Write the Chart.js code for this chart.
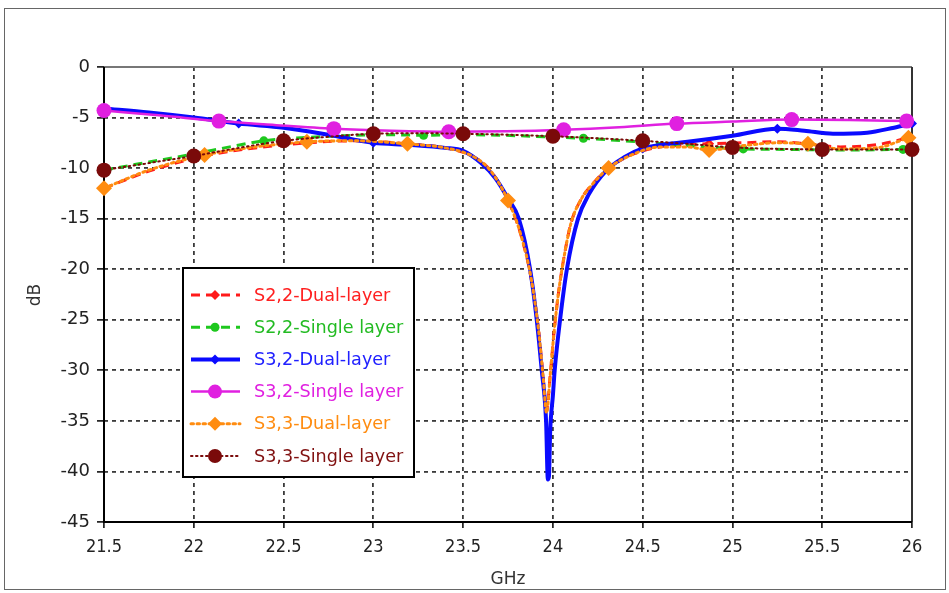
<!DOCTYPE html>
<html>
<head>
<meta charset="utf-8">
<script src="https://cdn.jsdelivr.net/npm/chart.js@4.4.1/dist/chart.umd.min.js"></script>
<style>
  html, body { margin: 0; padding: 0; background: #fff; }
  #c { display: block; }
</style>
</head>
<body>
<canvas id="c" width="949" height="593"></canvas>
<script>
// ---------- data ----------
const xTicks = [21.5, 22, 22.5, 23, 23.5, 24, 24.5, 25, 25.5, 26];
const yTicks = [-45, -40, -35, -30, -25, -20, -15, -10, -5, 0];

const seriesNames = ["S2,2-Dual-layer", "S2,2-Single layer", "S3,2-Dual-layer",
                     "S3,2-Single layer", "S3,3-Dual-layer", "S3,3-Single layer"];

// S2,2 Dual-layer and S3,3 Dual-layer share this frequency grid
const dualFreq = [21.5, 21.75, 22.06, 22.3, 22.63, 22.9, 23.19, 23.4, 23.55, 23.65, 23.75, 23.82,
  23.88, 23.92, 23.945, 23.965, 23.985, 24.005, 24.03, 24.06, 24.1, 24.16, 24.22, 24.31, 24.45,
  24.6, 24.75, 24.87, 25.05, 25.25, 25.42, 25.6, 25.8, 25.98];
const s22Dual = [-12.0, -10.3, -8.8, -8.1, -7.5, -7.3, -7.6, -8.0, -8.8, -10.2, -13.2, -16.5,
  -21, -26, -30.5, -34.0, -30.5, -26.5, -22.5, -19, -15.5, -13, -11.6, -10.0, -8.6,
  -7.9, -7.7, -7.6, -7.5, -7.4, -7.6, -7.9, -7.7, -7.0];
const s33Dual = [-12.0, -10.2, -8.7, -8.0, -7.4, -7.3, -7.6, -8.0, -8.8, -10.2, -13.2, -16.5,
  -21, -26, -30.5, -34.2, -30.5, -26.5, -22.5, -19, -15.5, -13, -11.6, -10.0, -8.6,
  -7.9, -7.9, -8.2, -7.8, -7.5, -7.6, -8.1, -8.0, -7.0];

const s22SingleFreq = [21.5, 21.75, 22.0, 22.2, 22.39, 22.6, 22.83, 23.05, 23.28, 23.5, 23.72,
  23.95, 24.17, 24.4, 24.62, 24.84, 25.06, 25.3, 25.5, 25.72, 25.95];
const s22Single = [-10.2, -9.4, -8.6, -7.9, -7.3, -7.0, -6.8, -6.7, -6.75, -6.7, -6.75,
  -6.9, -7.05, -7.3, -7.6, -7.9, -8.1, -8.15, -8.2, -8.2, -8.15];

const s32DualFreq = [21.5, 21.75, 22.0, 22.25, 22.5, 22.75, 23.0, 23.2, 23.4, 23.5, 23.6, 23.68,
  23.75, 23.81, 23.873, 23.91, 23.938, 23.962, 23.972, 23.978, 23.985, 24.0, 24.01, 24.04,
  24.078, 24.14, 24.2, 24.3, 24.4, 24.5, 24.6, 24.75, 25.0, 25.25, 25.4, 25.56, 25.75, 25.9, 26.0];
const s32Dual = [-4.1, -4.5, -5.0, -5.6, -6.0, -6.7, -7.5, -7.7, -8.0, -8.3, -9.5, -11.0,
  -13.0, -15, -20, -25, -30, -35, -40.8, -40.5, -36, -32.5, -30, -25,
  -20, -15, -12.6, -10.2, -8.9, -8.05, -7.7, -7.4, -6.8, -6.1, -6.3, -6.6, -6.5, -6.0, -5.6];

const s32SingleFreq = [21.5, 21.82, 22.14, 22.46, 22.78, 23.1, 23.42, 23.74, 24.06, 24.37,
  24.69, 25.0, 25.33, 25.65, 25.97];
const s32Single = [-4.3, -4.8, -5.35, -5.75, -6.1, -6.3, -6.4, -6.35, -6.2, -5.95,
  -5.6, -5.4, -5.2, -5.25, -5.35];

const s33SingleFreq = [21.5, 21.75, 22.0, 22.25, 22.5, 22.75, 23.0, 23.25, 23.5, 23.75, 24.0,
  24.25, 24.5, 24.75, 25.0, 25.25, 25.5, 25.75, 26.0];
const s33Single = [-10.2, -9.5, -8.8, -8.0, -7.3, -6.9, -6.6, -6.55, -6.6, -6.7, -6.85,
  -7.05, -7.3, -7.6, -7.95, -8.1, -8.15, -8.15, -8.15];

// frequencies at which each curve carries a marker
const s22DualMarks   = [21.5, 22.06, 22.63, 23.19, 23.75, 24.31, 24.87, 25.42, 25.98];
const s22SingleMarks = [21.5, 22.39, 23.28, 24.17, 25.06, 25.95];
const s32DualMarks   = [21.5, 22.25, 23.0, 23.75, 24.5, 25.25, 26.0];
const s32SingleMarks = [21.5, 22.14, 22.78, 23.42, 24.06, 24.69, 25.33, 25.97];
const s33DualMarks   = [21.5, 22.06, 22.63, 23.19, 23.75, 24.31, 24.87, 25.42, 25.98];
const s33SingleMarks = [21.5, 22.0, 22.5, 23.0, 23.5, 24.0, 24.5, 25.0, 25.5, 26.0];

// ---------- styles ----------
const FONT = "'DejaVu Sans', Verdana, sans-serif";
const XFONT = "'DejaVu Sans Condensed', 'Liberation Sans Narrow', 'DejaVu Sans', sans-serif";
const styles = [
  { color: '#ff1a1a', text: '#ff2020', width: 3,   dash: [9, 6],   point: 'rectRot', r: 5 },
  { color: '#1ec81e', text: '#22bb22', width: 3,   dash: [9, 6],   point: 'circle',  r: 4.5 },
  { color: '#0a0aff', text: '#2020ff', width: 4,   dash: [],       point: 'rectRot', r: 5 },
  { color: '#e020e0', text: '#e020e0', width: 2.5, dash: [],       point: 'circle',  r: 7.5 },
  { color: '#ff8c10', text: '#ff8c10', width: 3,   dash: [2.5, 3.5], point: 'rectRot', r: 8 },
  { color: '#7a0a0a', text: '#801010', width: 2,   dash: [1.5, 3.5], point: 'circle',  r: 7.5 }
];

const curves = [
  [dualFreq, s22Dual, s22DualMarks],
  [s22SingleFreq, s22Single, s22SingleMarks],
  [s32DualFreq, s32Dual, s32DualMarks],
  [s32SingleFreq, s32Single, s32SingleMarks],
  [dualFreq, s33Dual, s33DualMarks],
  [s33SingleFreq, s33Single, s33SingleMarks]
];

const datasets = curves.map(([f, v, m], i) => {
  const st = styles[i];
  const flags = f.map(x => m.includes(x));
  return {
    label: seriesNames[i],
    data: f.map((x, k) => ({ x: x, y: v[k] })),
    borderColor: st.color,
    backgroundColor: st.color,
    borderWidth: st.width,
    borderDash: st.dash,
    borderCapStyle: st.dash.length && st.dash[0] < 3 ? 'round' : 'butt',
    cubicInterpolationMode: 'monotone',
    tension: 0.4,
    pointStyle: st.point,
    pointRadius: ctx => flags[ctx.dataIndex] ? st.r : 0,
    pointBorderWidth: 0,
    pointBackgroundColor: st.color,
    pointHoverRadius: 0,
    order: 5 - i,
    clip: false
  };
});

function drawMarker(ctx, style, x, y, r, color) {
  ctx.fillStyle = color;
  ctx.beginPath();
  if (style === 'circle') {
    ctx.arc(x, y, r, 0, Math.PI * 2);
  } else {
    ctx.moveTo(x, y - r); ctx.lineTo(x + r, y); ctx.lineTo(x, y + r); ctx.lineTo(x - r, y);
    ctx.closePath();
  }
  ctx.fill();
}

const decor = {
  id: 'decor',
  beforeDraw(chart) {
    const ctx = chart.ctx;
    ctx.save();
    ctx.fillStyle = '#fff';
    ctx.fillRect(0, 0, chart.width, chart.height);
    ctx.strokeStyle = '#666';
    ctx.lineWidth = 1;
    ctx.strokeRect(4.5, 8.5, 941, 581);
    ctx.restore();
  },
  beforeDatasetsDraw(chart) {
    const { ctx, chartArea: a } = chart;
    ctx.save();
    ctx.setLineDash([]);
    ctx.lineWidth = 2;
    ctx.strokeStyle = '#777';
    ctx.beginPath(); ctx.moveTo(a.left, a.top); ctx.lineTo(a.right, a.top); ctx.stroke();
    ctx.strokeStyle = '#333';
    ctx.beginPath(); ctx.moveTo(a.right, a.top); ctx.lineTo(a.right, a.bottom); ctx.stroke();
    ctx.strokeStyle = '#000';
    ctx.beginPath(); ctx.moveTo(a.left, a.top); ctx.lineTo(a.left, a.bottom); ctx.lineTo(a.right, a.bottom); ctx.stroke();
    ctx.restore();
  },
  afterDraw(chart) {
    const ctx = chart.ctx;
    ctx.save();
    // axis titles
    ctx.fillStyle = '#333';
    ctx.font = '17px ' + FONT;
    ctx.textAlign = 'center';
    ctx.textBaseline = 'middle';
    ctx.fillText('GHz', 508, 580);
    ctx.save();
    ctx.translate(36, 295);
    ctx.rotate(-Math.PI / 2);
    ctx.fillText('dB', 0, 0);
    ctx.restore();

    // legend box
    const L = 183, T = 268, W = 231, H = 209;
    ctx.fillStyle = '#fff';
    ctx.fillRect(L, T, W, H);
    ctx.strokeStyle = '#000';
    ctx.lineWidth = 2;
    ctx.setLineDash([]);
    ctx.strokeRect(L, T, W, H);
    ctx.font = '17.6px ' + FONT;
    ctx.textAlign = 'left';
    ctx.textBaseline = 'middle';
    seriesNames.forEach((name, i) => {
      const st = styles[i];
      const y = 295 + i * 32.2;
      ctx.save();
      ctx.strokeStyle = st.color;
      ctx.lineWidth = st.width;
      ctx.setLineDash(st.dash);
      ctx.lineCap = st.dash.length && st.dash[0] < 3 ? 'round' : 'butt';
      ctx.beginPath(); ctx.moveTo(191, y); ctx.lineTo(240, y); ctx.stroke();
      ctx.restore();
      drawMarker(ctx, st.point, 215, y, Math.min(st.r, 7), st.color);
      ctx.fillStyle = st.text;
      ctx.fillText(name, 254, y + 1);
    });
    ctx.restore();
  }
};

new Chart(document.getElementById('c'), {
  type: 'line',
  data: { datasets: datasets },
  plugins: [decor],
  options: {
    responsive: false,
    animation: false,
    devicePixelRatio: 1,
    layout: { padding: { top: 67, right: 37, left: 0, bottom: 0 } },
    plugins: { legend: { display: false }, tooltip: { enabled: false } },
    scales: {
      x: {
        type: 'linear', min: 21.5, max: 26,
        afterBuildTicks: s => { s.ticks = xTicks.map(v => ({ value: v })); },
        afterFit: s => { s.height = 71; },
        ticks: { color: '#222', font: { family: XFONT, size: 18 }, padding: 9, maxRotation: 0,
                 callback: v => String(v) },
        grid: { color: '#3a3a3a', lineWidth: 1.8, drawTicks: true, tickLength: 6,
                tickColor: '#000', tickWidth: 1.5, tickBorderDash: [] },
        border: { display: false, dash: [4, 4] }
      },
      y: {
        type: 'linear', min: -45, max: 0,
        afterBuildTicks: s => { s.ticks = yTicks.map(v => ({ value: v })); },
        afterFit: s => { s.width = 104; },
        ticks: { color: '#222', font: { family: FONT, size: 18 }, padding: 7,
                 callback: v => String(v) },
        grid: { color: '#3a3a3a', lineWidth: 1.8, drawTicks: true, tickLength: 7,
                tickColor: '#000', tickWidth: 1.5, tickBorderDash: [] },
        border: { display: false, dash: [4, 4] }
      }
    }
  }
});
</script>
</body>
</html>
